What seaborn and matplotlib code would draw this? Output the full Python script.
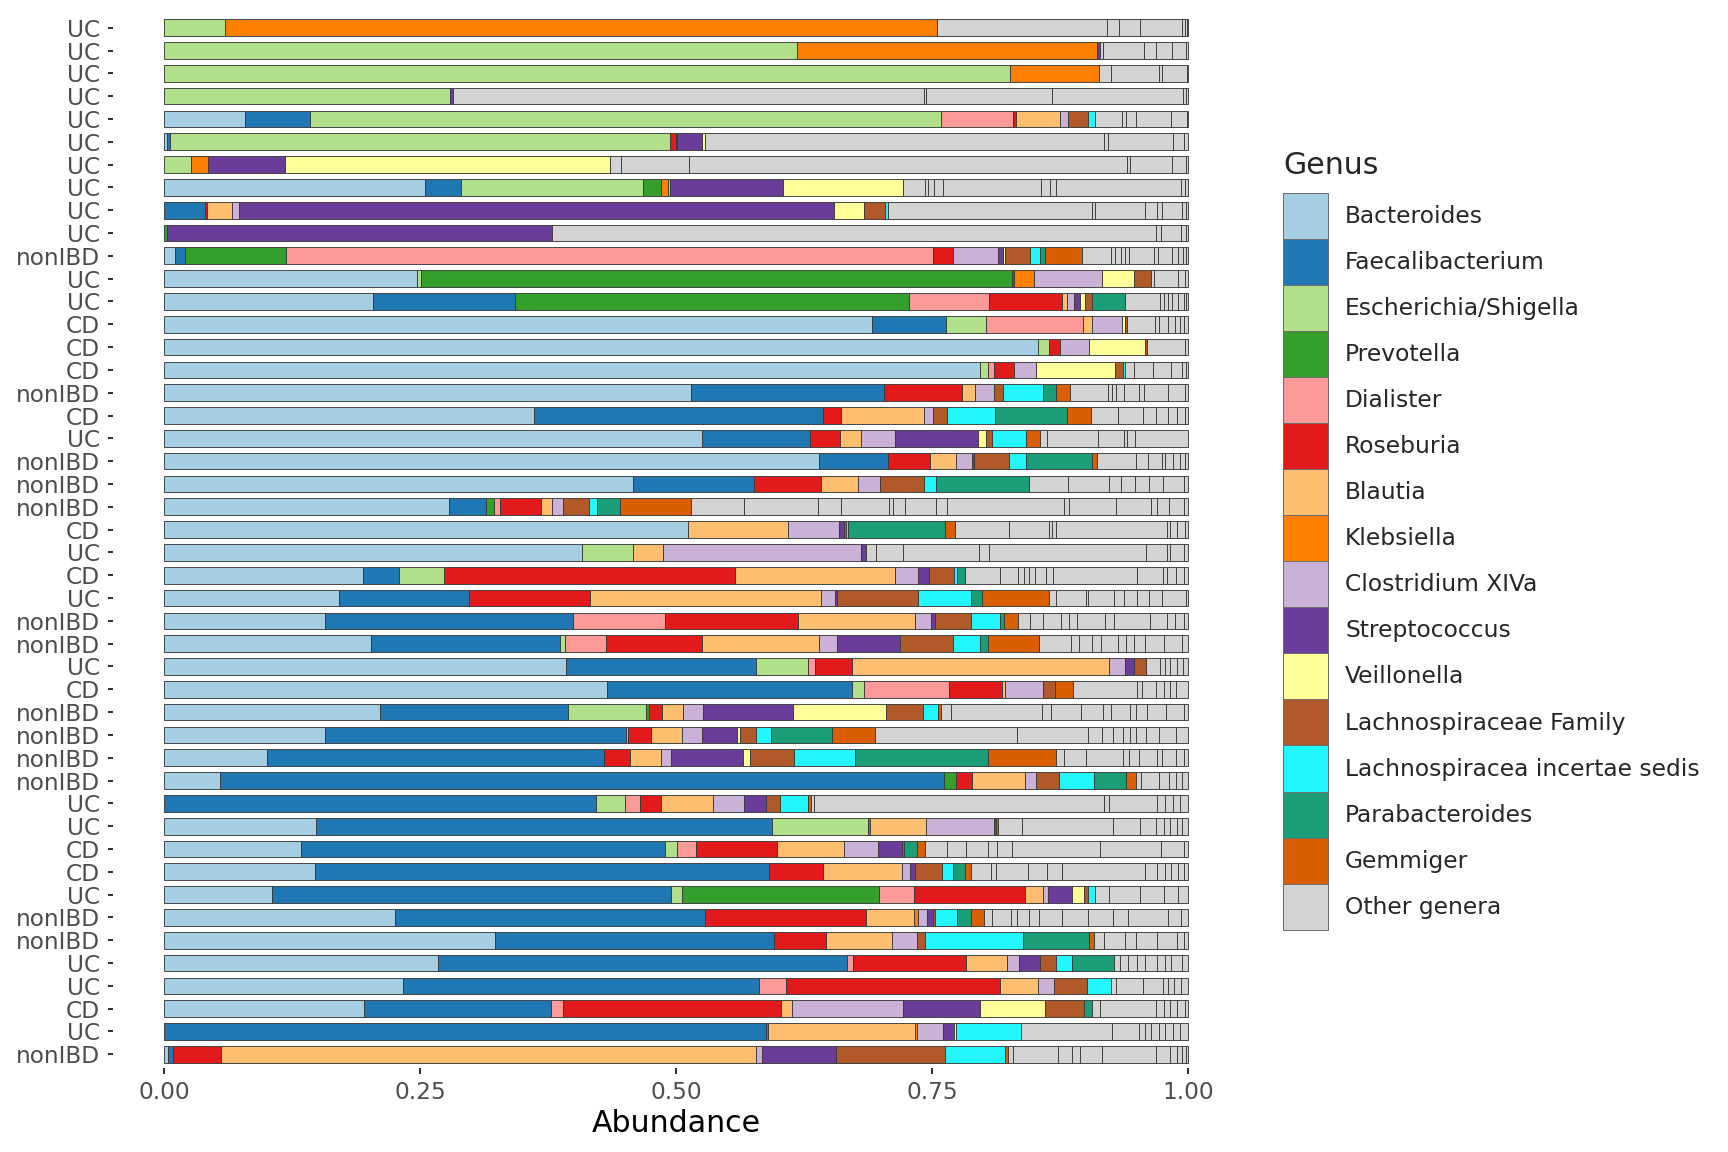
import numpy as np
import matplotlib
matplotlib.use('Agg')
import matplotlib.pyplot as plt
import matplotlib.patches as mpatches
import seaborn as sns

# diagnosis label of each sample, top to bottom
diagnosis = ['UC', 'UC', 'UC', 'UC', 'UC', 'UC', 'UC', 'UC', 'UC', 'UC',
             'nonIBD', 'UC', 'UC', 'CD', 'CD', 'CD', 'nonIBD', 'CD', 'UC', 'nonIBD',
             'nonIBD', 'nonIBD', 'CD', 'UC', 'CD', 'UC', 'nonIBD', 'nonIBD', 'UC', 'CD',
             'nonIBD', 'nonIBD', 'nonIBD', 'nonIBD', 'UC', 'UC', 'CD', 'CD', 'UC', 'nonIBD',
             'nonIBD', 'UC', 'UC', 'CD', 'UC', 'nonIBD']

genera = ['Bacteroides', 'Faecalibacterium', 'Escherichia/Shigella', 'Prevotella',
          'Dialister', 'Roseburia', 'Blautia', 'Klebsiella', 'Clostridium XIVa',
          'Streptococcus', 'Veillonella', 'Lachnospiraceae Family',
          'Lachnospiracea incertae sedis', 'Parabacteroides', 'Gemmiger', 'Other genera']

# relative abundance of each top genus per sample (same order as diagnosis)
bacteroides = [0, 0, 0, 0, .079, .003, 0, .255, 0, 0, .011, .247, .204, .691, .854, .797,
               .515, .361, .525, .639, .458, .278, .512, .408, .194, .171, .157, .202, .392,
               .432, .21, .157, .1, .055, 0, .148, .134, .147, .105, .225, .323, .267, .233,
               .195, 0, .004]
faecalibacterium = [0, 0, 0, 0, .063, .003, 0, .035, .04, 0, .009, 0, .139, .073, 0, 0,
                    .188, .283, .106, .067, .118, .036, 0, 0, .035, .127, .241, .184, .186,
                    .239, .184, .295, .329, .707, .421, .443, .356, .443, .39, .302, .273,
                    .399, .347, .183, .586, .005]
escherichia = [.059, .618, .826, .279, .617, .488, .026, .178, 0, 0, 0, .004, 0, .039, .01,
               .008, 0, 0, 0, 0, 0, 0, 0, .05, .044, 0, 0, .005, .05, .012, .076, 0, 0, 0,
               .029, .094, .012, 0, .01, 0, 0, 0, 0, 0, 0, 0]
prevotella = [0, 0, 0, 0, 0, 0, 0, .017, 0, .003, .099, .577, .385, 0, 0, 0, 0, 0, 0, 0, 0,
              .008, 0, 0, 0, 0, 0, 0, 0, 0, .003, 0, 0, .012, 0, .002, 0, 0, .193, 0, 0, 0,
              0, 0, .002, 0]
dialister = [0, 0, 0, 0, .07, 0, 0, 0, 0, 0, .632, 0, .078, .095, 0, .006, 0, 0, 0, 0, 0,
             .006, 0, 0, 0, 0, .09, .04, .007, .083, 0, .002, 0, 0, .014, 0, .019, 0, .034,
             0, 0, .006, .026, .012, 0, 0]
roseburia = [0, 0, 0, 0, .003, .006, 0, 0, .002, 0, .02, .002, .071, 0, .011, .019, .076,
             .017, .029, .041, .066, .04, 0, 0, .284, .119, .129, .093, .036, .052, .012,
             .022, .026, .015, .021, 0, .079, .053, .108, .157, .051, .111, .209, .213, 0,
             .046]
blautia = [0, 0, 0, 0, .043, 0, 0, 0, .024, 0, 0, 0, .005, .008, 0, 0, .013, .081, .021,
           .026, .036, .01, .097, .029, .156, .226, .114, .114, .251, .003, .021, .03, .03,
           .052, .051, .054, .065, .077, .018, .046, .064, .04, .037, .01, .143, .522]
klebsiella = [.696, .293, .087, 0, 0, .001, .017, .007, 0, 0, 0, .02, 0, 0, 0, 0, 0, 0, 0,
              0, 0, 0, 0, 0, 0, 0, 0, 0, 0, 0, 0, 0, 0, 0, 0, 0, 0, 0, 0, .004, 0, 0, 0, 0,
              .002, 0]
clostridium = [0, 0, 0, 0, .008, 0, 0, .002, .007, 0, .044, .066, .007, .03, .028, .022,
               .019, .009, .033, .015, .021, .011, .05, .193, .023, .014, .016, .018, .016,
               .037, .019, .02, .01, .011, .03, .066, .034, .008, .005, .009, .024, .011,
               .016, .109, .026, .006]
streptococcus = [0, .003, 0, .003, 0, .024, .075, .111, .581, .376, .004, 0, .006, 0, 0, 0,
                 0, 0, .081, .002, 0, 0, .005, .005, .01, .002, .004, .061, .008, 0, .088,
                 .034, .07, 0, .021, .002, .023, .005, .023, .006, 0, .021, 0, .075, .01,
                 .072]
veillonella = [0, 0, 0, 0, 0, .003, .318, .117, .03, 0, .002, .031, .005, .003, .055, .077,
               0, 0, .008, 0, 0, 0, 0, 0, 0, 0, 0, 0, 0, 0, .091, .003, .007, 0, 0, 0, 0, 0,
               .012, 0, 0, 0, 0, .063, .002, 0]
lachno_family = [0, 0, 0, 0, .019, 0, 0, 0, .02, 0, .025, .017, .006, .002, .002, .008,
                 .008, .014, .006, .034, .043, .026, .002, 0, .025, .079, .035, .052, .012,
                 .011, .036, .016, .043, .022, .014, 0, .002, .026, .004, .002, .008, .015,
                 .032, .039, 0, .106]
lachno_incertae = [0, 0, 0, 0, .007, 0, 0, 0, .003, 0, .01, 0, 0, 0, 0, .002, .04, .047,
                   .033, .017, .012, .007, .002, 0, .003, .052, .028, .026, 0, 0, .014, .014,
                   .059, .034, .027, 0, 0, .011, .006, .021, .096, .016, .023, 0, .064, .059]
parabacteroides = [0, 0, 0, 0, 0, 0, 0, 0, 0, 0, .004, 0, .033, 0, 0, 0, .012, .07, 0,
                   .064, .091, .023, .095, 0, .008, .011, .004, .008, 0, 0, 0, .06, .13,
                   .032, 0, 0, .013, .012, 0, .014, .064, .041, 0, .007, 0, 0]
gemmiger = [0, 0, 0, 0, 0, 0, 0, 0, 0, 0, .037, 0, 0, 0, 0, 0, .014, .023, .014, .005, 0,
            .069, .01, 0, 0, .065, .014, .05, 0, .018, .003, .042, .066, .009, .003, .002,
            .008, .005, 0, .012, .005, 0, 0, 0, 0, .003]

# the remaining genera of each sample, each one its own grey segment
other_genera = [
    [.166, .012, .02, .041, .003, .002, .001],
    [.003, .04, .012, .016, .013, .002],
    [.012, .047, .003, .024, .001],
    [.46, .002, .123, .128, .003, .002],
    [.027, .004, .009, .035, .015, .001],
    [.39, .004, .064, .01, .004],
    [.01, .067, .428, .003, .041, .013, .002],
    [.021, .003, .006, .009, .096, .008, .006, .122, .004, .003],
    [.199, .003, .049, .012, .005, .019, .004, .002],
    [.59, .005, .019, .005, .002],
    [.028, .004, .006, .004, .004, .024, .004, .014, .005, .005, .003, .002],
    [.003, .023, .007, .003],
    [.034, .004, .004, .004, .005, .006, .002, .002],
    [.027, .004, .009, .006, .005, .004, .004],
    [.037, .003],
    [.008, .019, .018, .01, .004, .002],
    [.037, .004, .004, .008, .014, .005, .024, .016, .003],
    [.027, .024, .013, .012, .008, .008, .003],
    [.006, .05, .026, .003, .007, .052],
    [.038, .012, .014, .003, .008, .006, .005, .003],
    [.038, .04, .012, .013, .014, .014, .02, .004],
    [.052, .072, .023, .046, .004, .012, .03, .011, .114, .005, .046, .034, .006, .012,
     .014, .004],
    [.052, .039, .003, .004, .109, .003, .006, .008, .003],
    [.01, .026, .074, .01, .153, .021, .003, .013, .004],
    [.034, .017, .006, .005, .006, .011, .006, .082, .026, .004, .008, .008, .004],
    [.007, .029, .002, .026, .01, .012, .012, .013, .023, .002],
    [.011, .013, .017, .008, .008, .027, .009, .035, .017, .008, .008, .004],
    [.031, .008, .013, .008, .017, .008, .008, .01, .019, .017, .006],
    [.014, .005, .005, .006, .006, .005],
    [.062, .005, .014, .008, .006, .005, .012],
    [.01, .089, .009, .029, .021, .008, .019, .005, .011, .019, .017, .004],
    [.139, .069, .014, .011, .01, .006, .006, .01, .013, .016, .012],
    [.008, .022, .036, .006, .009, .018, .005, .013, .008, .004],
    [.005, .018, .01, .006, .006, .006],
    [.003, .283, .005, .047, .008, .008, .006, .008],
    [.024, .088, .026, .016, .008, .006, .006, .005, .006],
    [.021, .019, .021, .009, .015, .086, .06, .022, .004],
    [.02, .005, .031, .019, .014, .081, .012, .008, .006, .006, .006, .004],
    [.014, .03, .024, .013, .01],
    [.008, .019, .006, .011, .01, .022, .026, .024, .015, .039, .012, .007],
    [.01, .021, .01, .021, .019, .007, .004],
    [.006, .008, .008, .008, .012, .008, .006, .01, .006],
    [.005, .026, .02, .005, .006, .006, .007],
    [.008, .055, .008, .006, .006, .008, .003],
    [.088, .026, .006, .006, .008, .006, .008, .006, .008],
    [.005, .043, .014, .008, .021, .053, .014, .006, .005, .004, .002],
]

top_genera = [bacteroides, faecalibacterium, escherichia, prevotella, dialister, roseburia,
              blautia, klebsiella, clostridium, streptococcus, veillonella, lachno_family,
              lachno_incertae, parabacteroides, gemmiger]

# colours: Paired for the first twelve, then cyan, two Dark2 and light grey
colors = sns.color_palette('Paired', 12).as_hex()
colors += ['#22F7FF', sns.color_palette('Dark2')[0], sns.color_palette('Dark2')[1], '#D3D3D3']

sns.set_theme(style='white')
plt.rcParams['font.family'] = ['DejaVu Sans']

fig = plt.figure(figsize=(12, 8), dpi=144)
ax = fig.add_axes([113 / 1728, 1 - 1068 / 1152, 1126 / 1728, 1054 / 1152])

n = len(diagnosis)
y = np.arange(n)
top = np.array(top_genera, dtype=float)
totals = top.sum(axis=0) + np.array([sum(o) for o in other_genera])
top = top / totals  # each sample sums to one
left = np.zeros(n)
bar_h = 0.73
edge = '#3a3a3a'
lw = 0.45

for vals, col in zip(top, colors):
    keep = vals > 0
    ax.barh(y[keep], vals[keep], left=left[keep], height=bar_h, color=col,
            edgecolor=edge, linewidth=lw)
    left += vals

# grey segments for all other genera
for i, segs in enumerate(other_genera):
    segs = np.array(segs) / totals[i]
    ax.barh(np.full(len(segs), i), segs, left=left[i] + np.concatenate([[0], np.cumsum(segs)[:-1]]),
            height=bar_h, color=colors[-1], edgecolor=edge, linewidth=lw)

ax.set_xlim(-0.05, 1.05)
ax.set_ylim(n - 0.4, -0.6)
ax.set_yticks(y)
ax.set_yticklabels(diagnosis)
ax.set_xticks([0, 0.25, 0.5, 0.75, 1.0])
ax.set_xticklabels(['0.00', '0.25', '0.50', '0.75', '1.00'])
ax.tick_params(axis='both', length=2.75, width=1.0, color='#333333', labelcolor='#4D4D4D',
               labelsize=11.6, left=True, bottom=True)
ax.tick_params(axis='y', pad=3.6)
ax.tick_params(axis='x', pad=3.6)
for s in ax.spines.values():
    s.set_visible(False)
ax.grid(False)
ax.set_xlabel('Abundance', fontsize=15, color='black', labelpad=2.5)
ax.set_ylabel('')

# legend: title as separate text so the gap above the keys matches
fig.text(1283 / 1728, 1 - 166 / 1152, 'Genus', fontsize=15, ha='left', va='center')
handles = [mpatches.Patch(facecolor=c, edgecolor='#6e6e6e', linewidth=0.5) for c in colors]
leg = fig.legend(handles, genera, loc='upper left', bbox_to_anchor=(1283 / 1728, 1 - 193 / 1152),
                 frameon=False, fontsize=11.7, handlelength=1.92, handleheight=2.65,
                 labelspacing=0, handletextpad=0.73, borderpad=0, borderaxespad=0)

fig.savefig('out.png', dpi=144)
